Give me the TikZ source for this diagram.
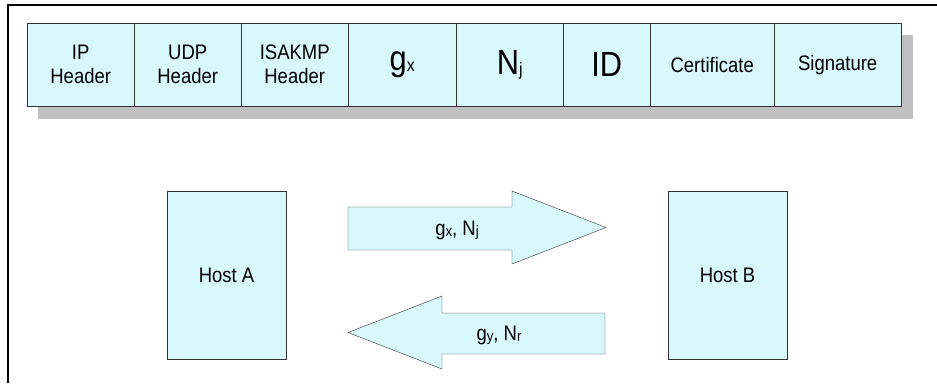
\documentclass[tikz,border=0pt]{standalone}
\usepackage{fontspec}
\setmainfont{Liberation Sans}[FakeStretch=0.88]
\usetikzlibrary{positioning}

\definecolor{cellblue}{HTML}{D9F8FC}
\definecolor{shadowgray}{HTML}{C0C0C0}
\definecolor{edgegray}{HTML}{333333}

\newcommand{\subscr}[2]{\raisebox{-1pt}{\fontsize{#1}{#1}\selectfont #2}}

\begin{document}
\begin{tikzpicture}[
    x=1pt, y=-1pt,
    cell/.style={draw=edgegray, fill=cellblue, anchor=north west, minimum height=83pt,
                 inner sep=0pt, align=center, font=\fontsize{21}{24}\selectfont},
    big/.style={font=\fontsize{35}{35}\selectfont},
    host/.style={draw=edgegray, fill=cellblue, minimum width=119pt, minimum height=168pt,
                 font=\fontsize{21}{24}\selectfont},
    blockarrow/.style={draw=edgegray, fill=cellblue, line join=miter},
    lbl/.style={font=\fontsize{21}{24}\selectfont, inner sep=0pt}
]
    \useasboundingbox (0,0) rectangle (937,383);

    % frame
    \draw[line width=1.2pt] (8,383) -- (8,5) -- (937,5);

    % packet
    \fill[shadowgray] (38,35) rectangle (913,119);
    \node[cell, minimum width=107pt] (ip)     at (27,23)  {IP\\Header};
    \node[cell, minimum width=107pt] (udp)    at (134,23) {UDP\\Header};
    \node[cell, minimum width=107pt] (isakmp) at (241,23) {ISAKMP\\Header};
    \node[cell, big, minimum width=108pt] (gx) at (348,23) {g\subscr{18}{x}};
    \node[cell, big, minimum width=107pt] (nj) at (456,23) {N\subscr{18}{j}};
    \node[cell, big, minimum width=87pt]  (id) at (563,23) {ID};
    \node[cell, minimum width=124pt] (cert)   at (650,23) {Certificate};
    \node[cell, minimum width=127pt] (sig)    at (774,23) {Signature};

    % hosts
    \node[host] (hosta) at (226.5,275) {Host A};
    \node[host] (hostb) at (727.5,275.5) {Host B};

    % exchange
    \draw[blockarrow] (348,207) -- (512,207) -- (512,191) -- (606,227.5)
        -- (512,264) -- (512,250) -- (348,250) -- cycle;
    \node[lbl] (fwd) at (457,230) {g\subscr{15}{x}, N\subscr{15}{j}};

    \draw[blockarrow] (605,313) -- (442,313) -- (442,296) -- (348,332.5)
        -- (442,369) -- (442,354) -- (605,354) -- cycle;
    \node[lbl] (back) at (499,335) {g\subscr{15}{y}, N\subscr{15}{r}};
\end{tikzpicture}
\end{document}
